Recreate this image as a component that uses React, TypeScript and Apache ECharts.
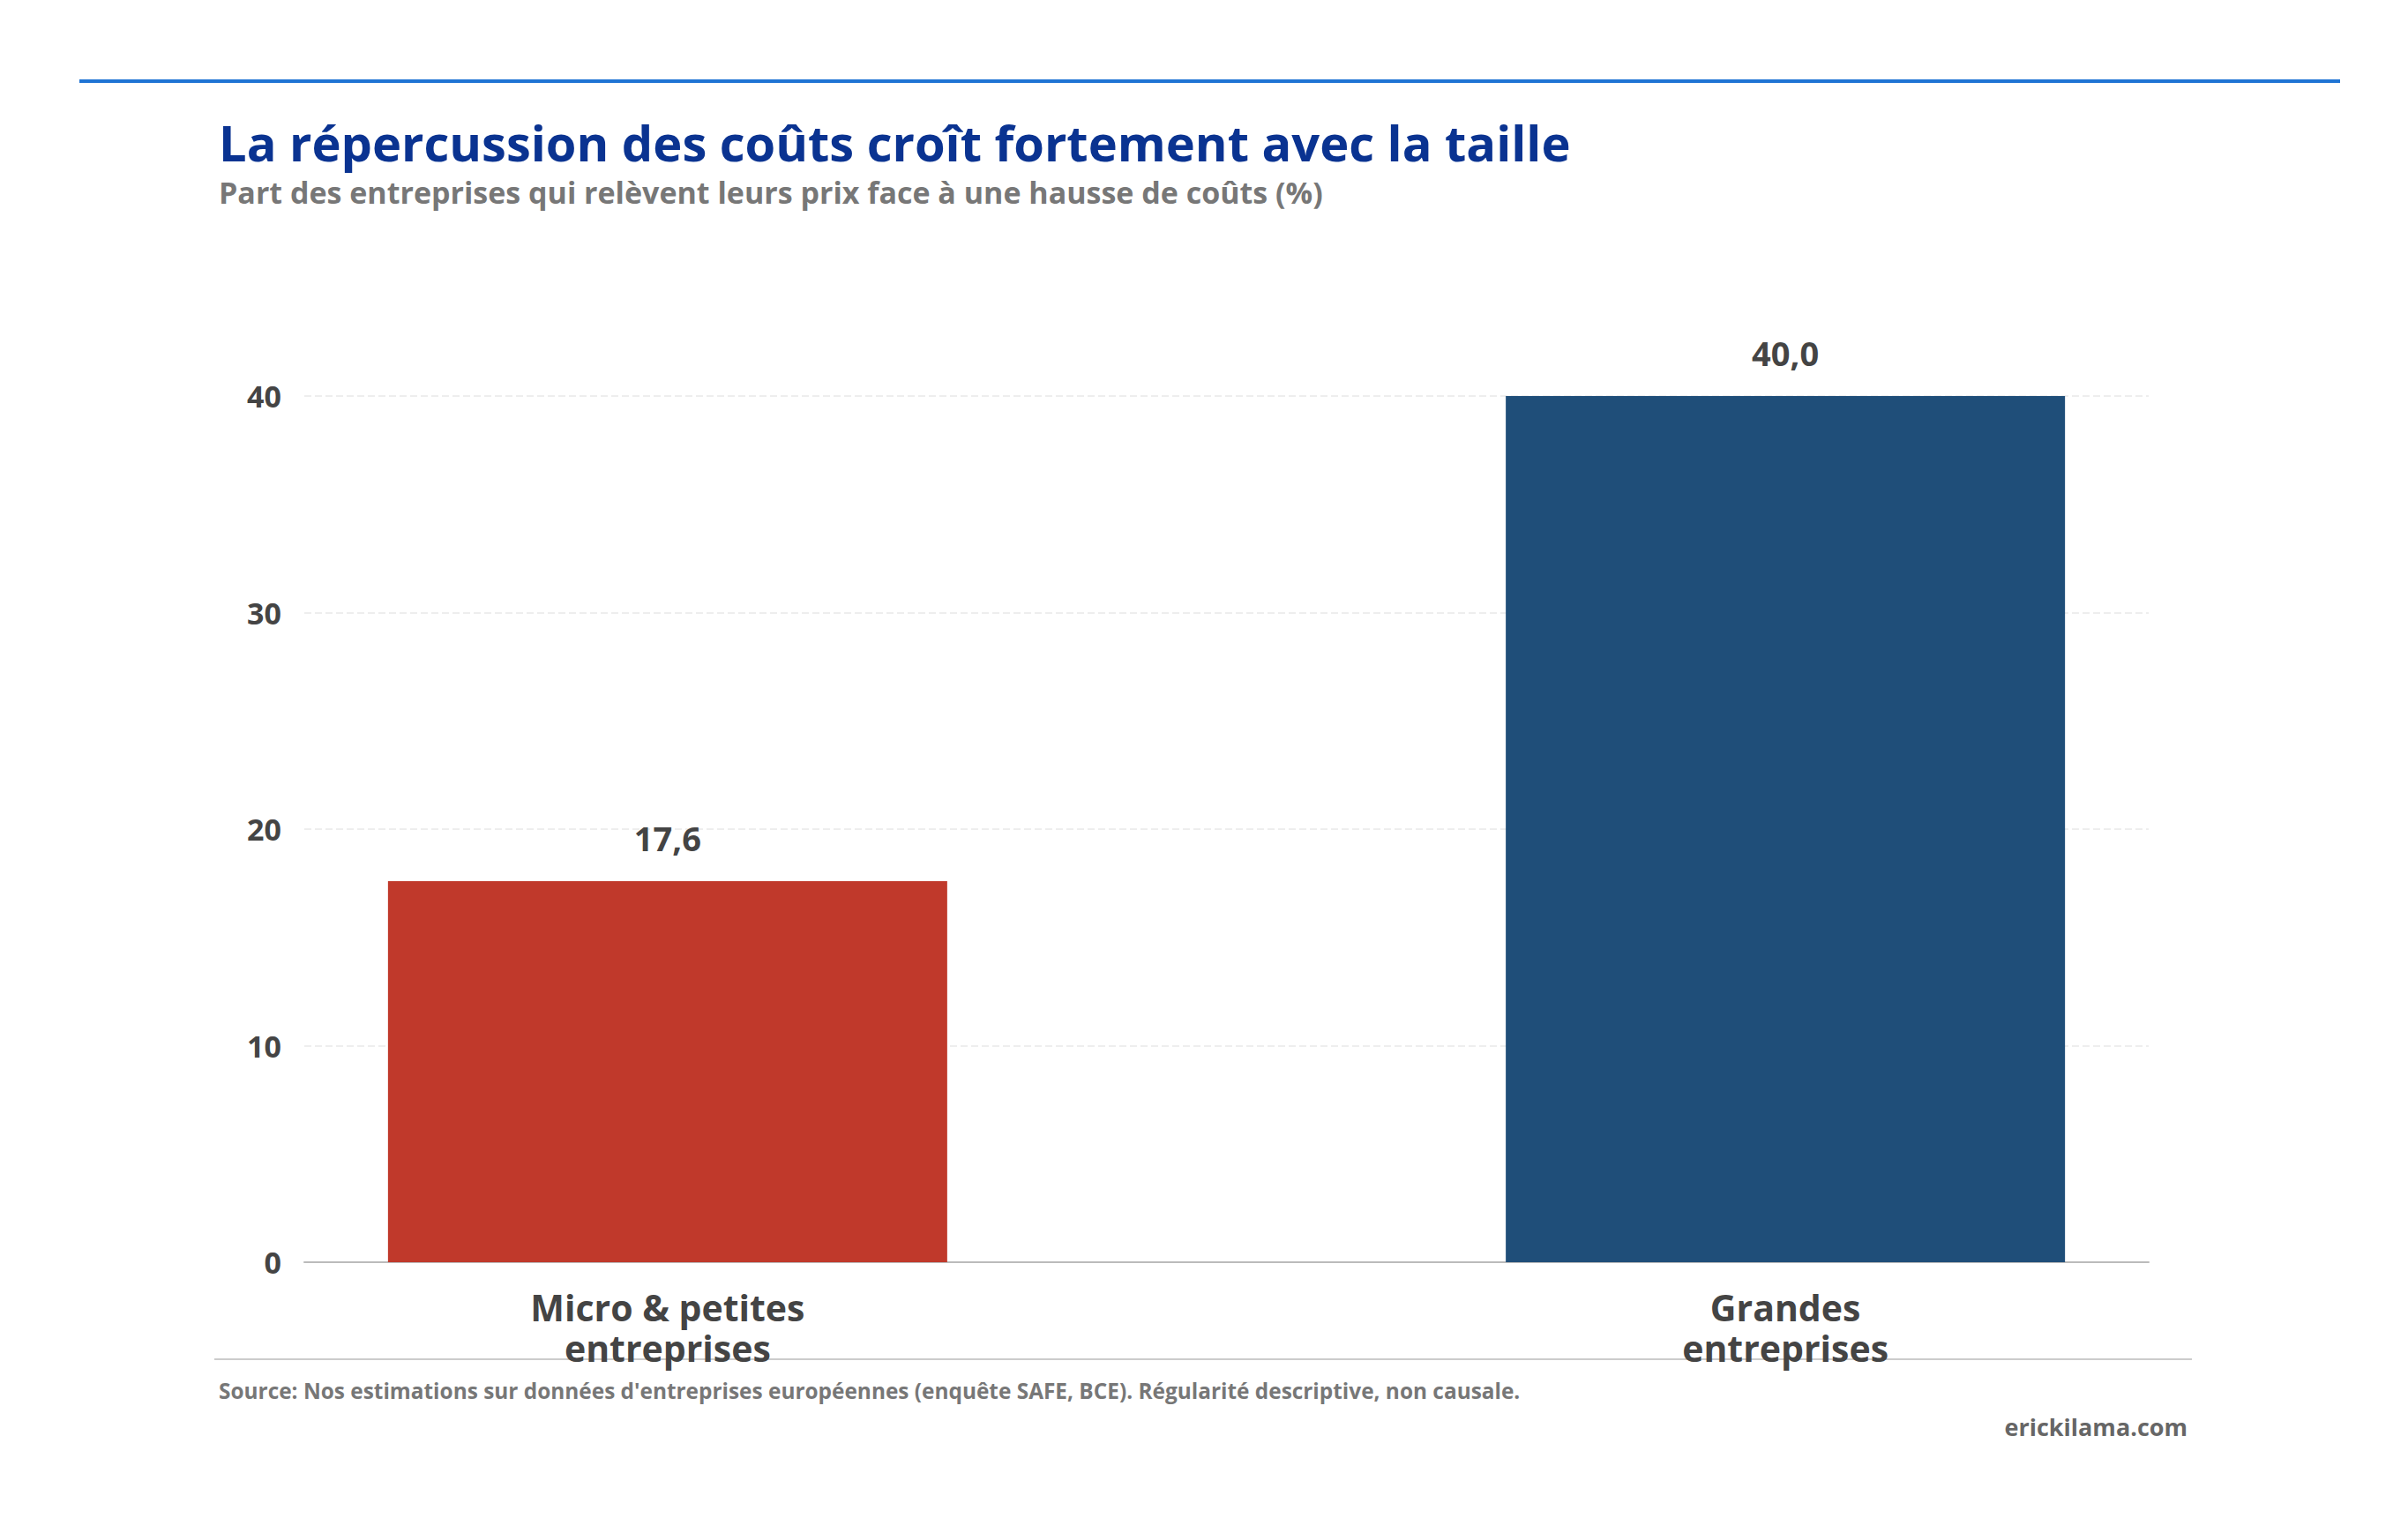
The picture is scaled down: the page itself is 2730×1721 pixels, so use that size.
import { useEffect, useRef } from 'react'
import * as echarts from 'echarts'

const categories = ['Micro & petites\nentreprises', 'Grandes\nentreprises']
const positions = [0, 1]
const shares = [17.6, 40.0]
const barColors = ['#c0392b', '#1f4e79']
const yTicks = [0, 10, 20, 30, 40]

const FONT = '"Open Sans", Lato, sans-serif'

export default function App() {
  const chartRef = useRef<HTMLDivElement>(null)

  useEffect(() => {
    if (!chartRef.current) return
    const chart = echarts.init(chartRef.current, null, { renderer: 'svg' })

    chart.setOption({
      animation: false,
      backgroundColor: '#ffffff',
      textStyle: { fontFamily: FONT },
      title: [
        {
          text: 'La répercussion des coûts croît fortement avec la taille',
          left: 243,
          top: 128,
          textStyle: { fontFamily: FONT, fontSize: 56, fontWeight: 'bold', color: '#0a3391' }
        },
        {
          text: 'Part des entreprises qui relèvent leurs prix face à une hausse de coûts (%)',
          left: 243,
          top: 196,
          textStyle: { fontFamily: FONT, fontSize: 34, fontWeight: 'bold', color: '#777777' }
        },
        {
          text: "Source: Nos estimations sur données d'entreprises européennes (enquête SAFE, BCE). Régularité descriptive, non causale.",
          left: 243,
          top: 1559,
          textStyle: { fontFamily: FONT, fontSize: 24.4, fontWeight: 'bold', color: '#777777' }
        },
        {
          text: 'erickilama.com',
          right: 245,
          top: 1599,
          textStyle: { fontFamily: FONT, fontSize: 27, fontWeight: 'bold', color: '#666666' }
        }
      ],
      graphic: [
        {
          type: 'line',
          shape: { x1: 90, y1: 92, x2: 2653, y2: 92 },
          style: { stroke: '#1f74d4', lineWidth: 4 }
        },
        {
          type: 'line',
          shape: { x1: 243, y1: 1541, x2: 2485, y2: 1541 },
          style: { stroke: '#cccccc', lineWidth: 2 }
        }
      ],
      grid: { left: 345, right: 294, top: 449, bottom: 290 },
      xAxis: {
        type: 'value',
        min: -0.325,
        max: 1.325,
        splitLine: { show: false },
        axisTick: { show: false },
        axisLine: { show: true, onZero: false, lineStyle: { color: '#bbbbbb', width: 2 } },
        axisLabel: {
          customValues: positions,
          formatter: (v: number) => categories[Math.round(v)] ?? '',
          margin: 28,
          fontFamily: FONT,
          fontSize: 41,
          fontWeight: 'bold',
          lineHeight: 46,
          color: '#444444'
        }
      },
      yAxis: {
        type: 'value',
        min: 0,
        max: 40,
        interval: 10,
        axisLine: { show: false },
        axisTick: { show: false },
        axisLabel: {
          customValues: yTicks,
          margin: 26,
          fontFamily: FONT,
          fontSize: 34,
          fontWeight: 'bold',
          color: '#444444'
        },
        splitLine: { show: true, lineStyle: { color: '#eeeeee', width: 2, type: [8, 4] } }
      },
      series: [
        {
          type: 'bar',
          barWidth: 634,
          data: positions.map((p, i) => ({
            value: [p, shares[i]],
            itemStyle: { color: barColors[i] }
          })),
          label: {
            show: true,
            position: 'top',
            distance: 30,
            fontFamily: FONT,
            fontSize: 38,
            fontWeight: 'bold',
            color: '#444444',
            formatter: (p: any) => p.value[1].toFixed(1).replace('.', ',')
          }
        }
      ]
    })

    return () => {
      chart.dispose()
    }
  }, [])

  return (
    <div
      ref={chartRef}
      style={{ position: 'fixed', left: 0, top: 0, width: '2730px', height: '1721px' }}
    />
  )
}
